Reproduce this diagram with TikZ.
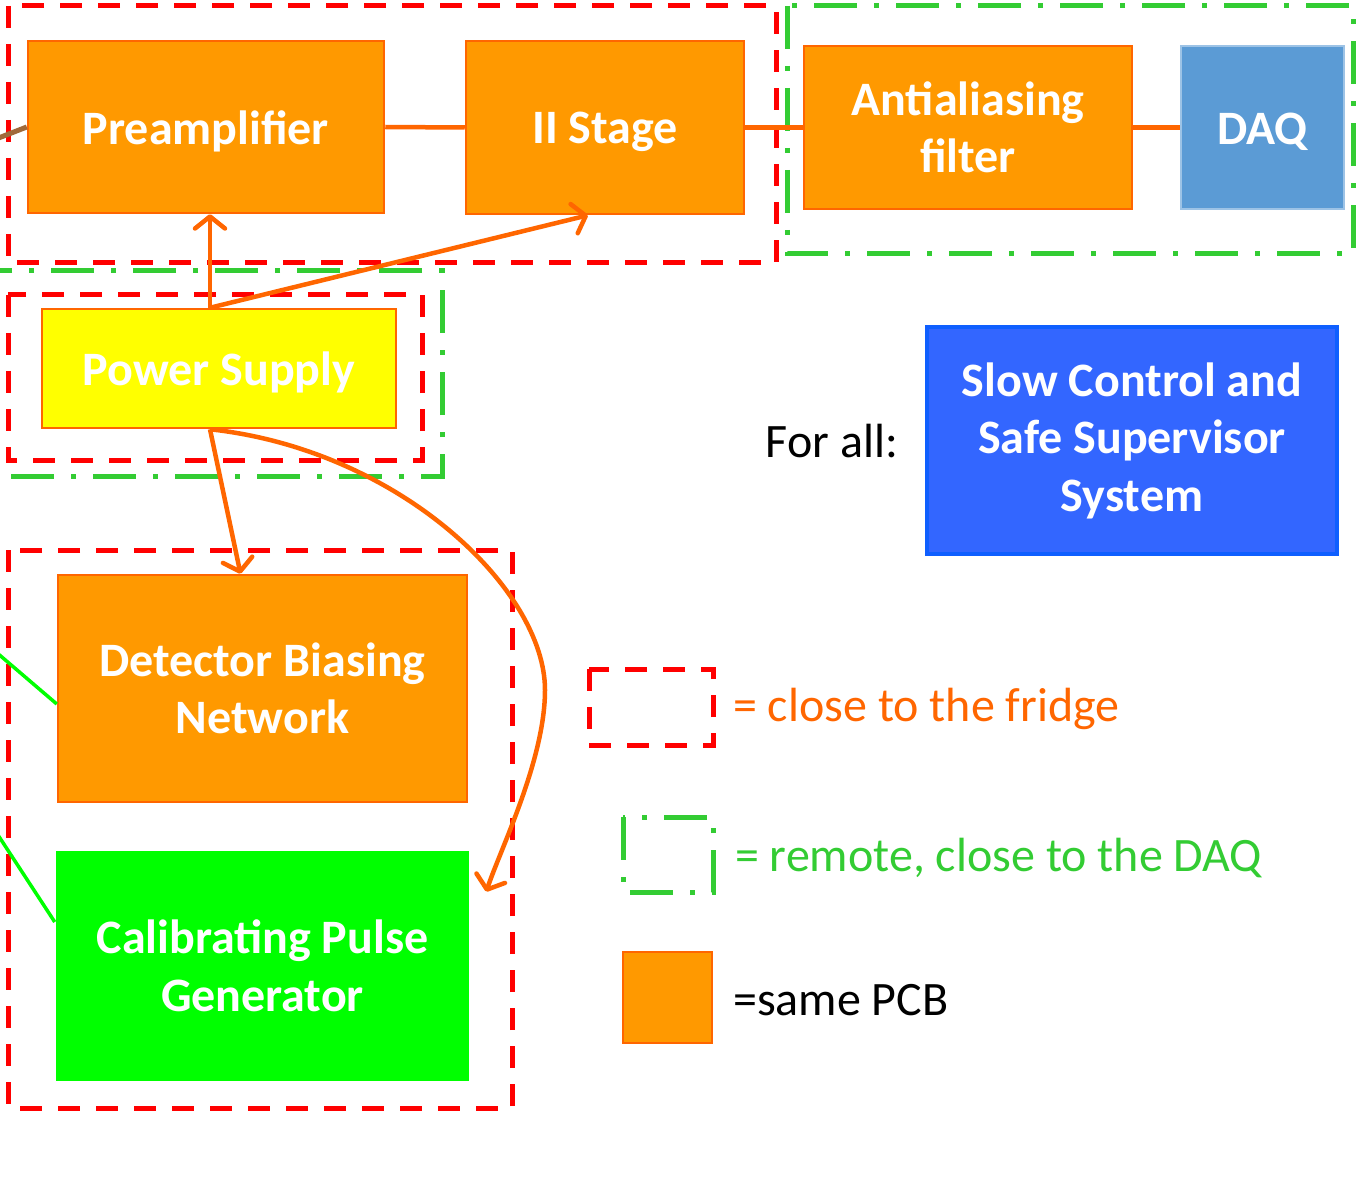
\documentclass[tikz,border=0pt]{standalone}
\usepackage{fontspec}
\setmainfont{Carlito}
\usetikzlibrary{arrows.meta,calc}
\definecolor{pcb}{RGB}{255,153,0}
\definecolor{pcbline}{RGB}{255,102,0}
\definecolor{fridgered}{RGB}{255,0,0}
\definecolor{remgreen}{RGB}{51,204,51}
\definecolor{psyellow}{RGB}{255,255,0}
\definecolor{calgreen}{RGB}{0,255,0}
\definecolor{daqblue}{RGB}{91,155,213}
\definecolor{daqline}{RGB}{157,195,230}
\definecolor{scblue}{RGB}{51,102,255}
\definecolor{scline}{RGB}{15,95,255}
\definecolor{brownline}{RGB}{160,105,58}
\newcommand{\lowertext}[1]{\raisebox{-4pt}[\height][\depth]{#1}}
\tikzset{
  box/.style={rectangle, draw=pcbline, fill=pcb, line width=2.5pt, text=white,
    font=\bfseries\fontsize{48}{57.5}\selectfont, align=center, inner sep=0pt},
  fridge/.style={draw=fridgered, line width=5pt, dash pattern=on 22pt off 16pt},
  remote/.style={draw=remgreen, line width=5pt, dash pattern=on 43pt off 17pt on 5pt off 17pt},
  conn/.style={draw=pcbline, line width=4.5pt},
  arr/.style={conn, -{Straight Barb[length=12pt,width=30pt,round]}},
  legtext/.style={anchor=west, font=\fontsize{48}{56}\selectfont, inner sep=0pt}
}
\begin{document}
\begin{tikzpicture}[x=1pt,y=-1pt]
\useasboundingbox (0,0) rectangle (1358,1182);
\clip (0,0) rectangle (1358,1182);
\fill[white] (0,0) rectangle (1358,1182);

% region outlines
\draw[fridge] (8,6) rectangle (776,263);
\draw[remote] (787,6) rectangle (1353,254);
\draw[remote] (-30,271) rectangle (442,476);
\draw[fridge] (8,295) rectangle (422,460);
\draw[fridge] (8,550) rectangle (512,1108);

% blocks
\node[box, minimum width=356pt, minimum height=172pt] (pre) at (206,127) {\lowertext{Preamplifier}};
\node[box, minimum width=278pt, minimum height=173pt] (st2) at (605,127.5) {\lowertext{II Stage}};
\node[box, minimum width=328pt, minimum height=163pt] (aaf) at (968,127.5) {Antialiasing\\filter};
\node[box, fill=daqblue, draw=daqline, line width=1.5pt, minimum width=163pt, minimum height=163pt] (daq) at (1262.5,127.5) {\lowertext{DAQ}};
\node[box, fill=psyellow, minimum width=354pt, minimum height=119pt] (ps) at (219,368.5) {\lowertext{Power Supply}};
\node[box, minimum width=409pt, minimum height=227pt] (det) at (262.5,688.5) {Detector Biasing\\Network};
\node[box, fill=calgreen, draw=none, minimum width=413pt, minimum height=230pt] (cal) at (262.5,966) {Calibrating Pulse\\Generator};
\node[box, fill=scblue, draw=scline, line width=4pt, minimum width=410pt, minimum height=227pt] (sc) at (1132,440.5) {Slow Control and\\Safe Supervisor\\System};
\node[anchor=center, inner sep=0pt, font=\fontsize{48}{56}\selectfont] (forall) at (832,441) {For all:};

% external inputs
\coordinate (bin) at (-4,139);
\coordinate (g1) at (-4,652);
\coordinate (g2) at (-4,832);
\draw[draw=brownline, line width=5pt] (bin) -- (pre.west);
\draw[draw=calgreen, line width=3.5pt] (g1) -- ([yshift=-15.5pt]det.west);
\draw[draw=calgreen, line width=3.5pt] (g2) -- ([yshift=44pt]cal.west);

% signal chain
\draw[conn] (pre.east) -- (st2.west);
\draw[conn] (st2.east) -- (aaf.west);
\draw[conn] (aaf.east) -- (daq.west);

% power distribution
\coordinate (pstop) at ([xshift=-9pt]ps.north);
\coordinate (psbot) at ([xshift=-9pt]ps.south);
\draw[arr] (pstop) -- ([xshift=4pt]pre.south);
\draw[arr] (pstop) -- ([xshift=-17pt]st2.south);
\draw[arr] (psbot) -- ([xshift=-22pt]det.north);
\coordinate (calin) at ([xshift=16pt,yshift=-42pt]cal.north east);
\draw[arr] (psbot) .. controls (400,450) and (545,590) .. (545,690)
  .. controls (545,760) and (500,850) .. (calin);

% legend
\draw[fridge] (589,669) rectangle (713,745);
\node[legtext, text=pcbline] (l1) at (733,709) {= close to the fridge};
\draw[remote] (623,817) rectangle (713,892);
\node[legtext, text=remgreen] (l2) at (735,858) {= remote, close to the DAQ};
\node[box, minimum width=89pt, minimum height=91pt] (lsq) at (667.5,997.5) {};
\node[legtext, text=black] (l3) at (733,1000) {=same PCB};
\end{tikzpicture}
\end{document}
